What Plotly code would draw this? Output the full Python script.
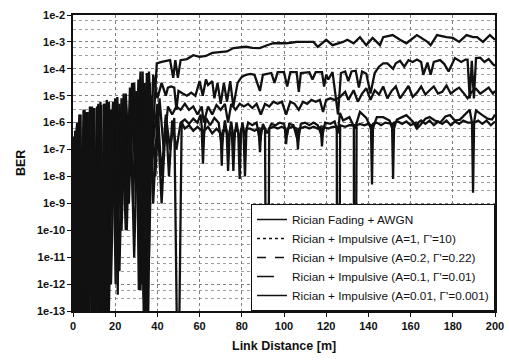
import plotly.graph_objects as go

# ---------------- data ----------------
x_tick_vals = [0, 20, 40, 60, 80, 100, 120, 140, 160, 180, 200]
y_tick_vals = [1e-2, 1e-3, 1e-4, 1e-5, 1e-6, 1e-7, 1e-8, 1e-9, 1e-10, 1e-11, 1e-12, 1e-13]
y_tick_text = ["1e-2", "1e-3", "1e-4", "1e-5", "1e-6", "1e-7", "1e-8", "1e-9",
               "1e-10", "1e-11", "1e-12", "1e-13"]

legend_names = [
    "Rician Fading + AWGN",
    "Rician + Impulsive (A=1, Γ'=10)",
    "Rician + Impulsive (A=0.2, Γ'=0.22)",
    "Rician + Impulsive (A=0.1, Γ'=0.01)",
    "Rician + Impulsive (A=0.01, Γ'=0.001)",
]

# (distance [m], BER) vertices for each curve
s_awgn = [(0, 1e-8), (0.8, 1e-14), (1.6, 5e-7), (2.4, 1e-14), (3.2, 1.5e-6), (4.0, 1e-14),
          (5.0, 1e-7), (5.8, 1e-14), (6.6, 2.5e-6), (7.4, 1e-14), (8.2, 3e-6), (9.0, 1e-14),
          (9.8, 3.5e-6), (10.6, 1e-14), (11.4, 4e-6), (12.2, 1e-14), (13.0, 4.5e-6), (13.8, 1e-14),
          (14.6, 5e-6), (15.4, 1e-14), (16.2, 5e-6), (16.6, 1e-14), (18, 3e-6), (19.5, 1e-9),
          (20.5, 6e-6), (21.2, 4e-13), (22, 5e-6), (23.5, 1e-8), (25, 7e-6), (26.5, 1e-9),
          (28, 1e-5), (29.5, 1e-8), (31, 2e-5), (32, 6e-13), (33, 3e-5), (34, 1e-14), (34.8, 1e-14),
          (36, 2e-5), (38, 2e-7), (40, 5e-6), (42, 1e-8), (44, 2e-6), (46, 1e-7), (48, 1.5e-6),
          (49.3, 1e-14), (50.3, 1e-14), (51.5, 1e-6), (53, 6e-7), (55, 8e-7), (57, 5e-7), (59, 7e-7),
          (61, 5e-7), (61.6, 3e-8), (62.2, 5e-7), (64, 7e-7), (66, 4e-7), (68, 6e-7), (70, 4e-7),
          (70.5, 2.5e-8), (71, 5e-7), (72.8, 5e-7), (73.5, 1.6e-8), (74.3, 5e-7), (75.3, 4e-7),
          (76, 1.6e-8), (76.7, 5e-7), (78.3, 5e-7), (79, 8e-9), (79.7, 6e-7), (80.8, 5e-7),
          (81.5, 1e-8), (82.2, 6e-7), (84, 6e-7), (86, 5e-7), (88, 6e-7), (88.6, 8e-8), (89.2, 6e-7),
          (91, 6e-7), (91.5, 1e-14), (92.5, 1e-14), (93, 6e-7), (95, 7e-7), (97, 6e-7), (99, 7e-7),
          (100.4, 6e-7), (101, 1.6e-7), (101.6, 6e-7), (104, 7e-7), (106, 6e-7), (106.6, 1e-7),
          (107.2, 6e-7), (110, 7e-7), (112, 6e-7), (114, 7e-7), (116, 6e-7), (117.4, 7e-7),
          (118, 1.3e-7), (118.6, 7e-7), (121, 6e-7), (123, 7e-7), (125, 7e-7), (125.2, 1e-14),
          (126.2, 1e-14), (126.6, 8e-7), (129, 7e-7), (131, 8e-7), (133.1, 8e-7), (133.2, 1e-14),
          (134.0, 1e-14), (134.4, 8e-7), (136, 9e-7), (138, 8e-7), (140, 9e-7), (141.2, 8e-7),
          (141.7, 5e-9), (142.2, 9e-7), (144, 1e-6), (146, 8e-7), (148, 1e-6), (150, 9e-7),
          (151.2, 9e-7), (151.7, 8e-9), (152.2, 1e-6), (154, 1.1e-6), (156, 9e-7), (158, 1.1e-6),
          (160, 8e-7), (162.4, 1e-6), (163, 6e-7), (163.6, 1e-6), (165, 1.2e-6), (167, 9e-7),
          (169, 1.2e-6), (171, 8e-7), (173, 1.1e-6), (175, 9e-7), (177, 1.2e-6), (179, 8e-7),
          (181, 1.1e-6), (183, 9e-7), (185, 1.2e-6), (187, 1e-6), (189.1, 1e-6), (189.6, 2.5e-9),
          (190.1, 1e-6), (192, 1.2e-6), (194, 9e-7), (196, 1.2e-6), (198, 8e-7), (200, 1.1e-6)]

s_a1 = [(0, 2e-8), (2, 1e-6), (4, 1e-14), (5.5, 3e-6), (7, 1e-14), (9, 4e-6), (11, 1e-14),
        (13, 6e-6), (15, 1e-14), (17, 6e-6), (19, 1e-9), (21, 9e-6), (23, 1e-10), (25, 1.2e-5),
        (27, 1e-8), (29, 3e-5), (31, 1e-9), (33, 8e-5), (34.5, 1e-14), (36, 8e-5), (37.5, 1e-7),
        (39.7, 1.6e-4), (42, 1.8e-4), (44, 2.0e-4), (46, 2.1e-4), (47.5, 4.6e-5), (48.5, 2.1e-4),
        (49.7, 4.6e-5), (51, 2.1e-4), (54, 2.3e-4), (57, 3.2e-4), (60, 2.8e-4), (63, 3.0e-4),
        (66, 3.9e-4), (70, 4.2e-4), (73, 4.4e-4), (76, 5.9e-4), (79, 6.2e-4), (82, 6.6e-4),
        (85, 6.0e-4), (88.5, 5.9e-4), (92, 7.5e-4), (95, 8.9e-4), (98, 9.0e-4), (101, 8.9e-4),
        (104, 9.5e-4), (106, 1.0e-3), (110, 1.0e-3), (114, 1.0e-3), (116, 6.5e-4), (118, 9e-4),
        (120, 1.2e-3), (123, 7.6e-4), (126, 9.0e-4), (128, 1.0e-3), (130, 1.2e-3), (133, 8.9e-4),
        (136, 1.5e-3), (139, 7.6e-4), (142, 1.4e-3), (145.5, 7.6e-4), (147, 1.5e-3),
        (151.5, 1.8e-3), (155, 1.2e-3), (158, 8.9e-4), (163, 1.8e-3), (168, 1.0e-3),
        (169.5, 7.6e-4), (172.5, 1.8e-3), (177, 1.5e-3), (180, 1.4e-3), (183, 1.0e-3),
        (186.5, 1.8e-3), (189.6, 1.5e-3), (191.5, 1.5e-3), (194.3, 1.0e-3), (197.6, 1.8e-3),
        (200, 1.2e-3)]

s_a02 = [(0, 1e-14), (1, 5e-7), (3, 1e-14), (5, 3e-6), (6.5, 1e-14), (8, 4e-6), (10, 1e-14),
         (12, 5e-6), (14, 1e-14), (16, 7e-6), (18, 1e-12), (20, 8e-6), (22, 3e-12), (24, 1.2e-5),
         (26, 1e-9), (28, 3e-5), (30, 1e-8), (32, 8e-5), (33.5, 3e-13), (35, 7e-5), (36, 1e-11),
         (38, 6e-5), (40, 8e-6), (42, 3e-5), (44, 1e-5), (45, 2e-5), (46.5, 2.2e-5), (48, 2.0e-5),
         (49, 3e-6), (50, 1.5e-5), (52, 1.2e-5), (54, 1e-5), (56, 1.3e-5), (58, 1e-5), (60, 3.5e-5),
         (61.5, 1e-5), (63, 4e-5), (64, 2.5e-5), (66, 3.5e-5), (67, 8e-6), (68.5, 3e-5), (70, 5e-6),
         (71.5, 3e-5), (73, 6e-6), (74.5, 3.5e-5), (76, 4e-6), (78, 3e-5), (80, 5e-5), (82, 6e-5),
         (84, 6.5e-5), (86, 6e-5), (88.6, 1.5e-5), (90, 6e-5), (92, 6.5e-5), (94, 7e-5),
         (95.5, 3e-5), (97, 7.5e-5), (100, 7.5e-5), (101.5, 2.2e-5), (103, 7.5e-5), (106, 7.5e-5),
         (107, 1.4e-5), (108, 7e-5), (112, 7.5e-5), (113.5, 4e-5), (115, 7.5e-5), (118, 7.5e-5),
         (119, 2.2e-5), (120, 6e-5), (121, 4e-5), (123, 7.5e-5), (125.6, 2e-6), (127, 7e-5),
         (129, 8e-5), (130.5, 3.5e-5), (132, 8e-5), (134, 8.5e-5), (135.5, 2e-5), (137, 8e-5),
         (139, 6.5e-5), (141, 1.2e-5), (143, 7e-5), (145, 1.2e-4), (147, 1.6e-4), (149, 1.6e-4),
         (151.7, 1e-4), (153, 1.6e-4), (155, 2e-4), (157, 1.2e-4), (159, 2.1e-4), (161, 1.8e-4),
         (163, 2.2e-4), (165, 1.8e-4), (166, 6e-5), (168, 1.7e-4), (169.5, 6e-5), (171, 1.8e-4),
         (174, 2.1e-4), (176, 1.5e-4), (178, 8e-5), (181, 2.5e-4), (184, 1.8e-4), (186, 2.2e-4),
         (187, 2.2e-4), (188, 8e-6), (189, 2e-4), (190, 8e-6), (191, 2.5e-4), (193, 2.6e-4),
         (195, 1.8e-4), (197, 2.3e-4), (199, 1.5e-4), (200, 1.3e-4)]

s_a01 = [(0, 1e-9), (1.5, 1e-14), (3, 2e-6), (4.5, 1e-14), (6, 2.5e-6), (7.5, 1e-14), (9, 3e-6),
         (10.5, 1e-14), (12, 4e-6), (13.5, 1e-14), (15.5, 5e-6), (17, 1e-13), (19, 6e-6),
         (21, 1e-11), (23, 8e-6), (25, 1e-10), (27, 2e-5), (29, 1e-11), (31, 4e-5), (32.5, 1e-12),
         (34, 3e-5), (35.5, 1e-14), (37, 1e-5), (39, 1e-8), (41, 8e-6), (43, 1e-7), (45, 4e-6),
         (47, 2e-6), (49, 4e-6), (51, 3e-6), (53, 5e-6), (55, 3e-6), (57, 4e-6), (59, 2e-6),
         (61, 4e-6), (62, 1e-6), (64, 4e-6), (66, 2e-6), (68, 4.5e-6), (70, 3e-6), (72, 5e-6),
         (73.5, 1e-6), (75, 5e-6), (77, 3e-6), (79, 5e-6), (81, 4e-6), (83, 5e-6), (85, 3.5e-6),
         (87, 5e-6), (89, 2e-6), (91, 5e-6), (93, 4e-6), (95, 6e-6), (97, 5e-6), (99, 6e-6),
         (101, 2e-6), (103, 6e-6), (105, 5e-6), (107, 3e-6), (109, 6e-6), (111, 5e-6), (113, 7e-6),
         (115, 6e-6), (117, 7e-6), (118.5, 2.5e-6), (120, 7e-6), (122, 8e-6), (124, 7e-6),
         (126.5, 9e-6), (129, 1.4e-5), (130.5, 7e-6), (133, 1.6e-5), (135, 6e-6), (137, 1.2e-5),
         (139, 1.9e-5), (141, 7e-6), (143, 1.6e-5), (145, 1.1e-5), (147, 2.2e-5), (149, 8e-6),
         (151, 1.5e-5), (153, 2.2e-5), (155, 8e-6), (157, 1.3e-5), (159, 2.3e-5), (161, 9e-6),
         (163, 1.3e-5), (165, 2.2e-5), (167, 1.1e-5), (169, 1.6e-5), (171, 2.2e-5), (173, 1.2e-5),
         (175, 1.4e-5), (177, 2.4e-5), (179, 1.2e-5), (181, 1.6e-5), (183, 2.0e-5), (185, 1.3e-5),
         (187, 8e-6), (189, 1.4e-5), (191, 1.8e-5), (193, 1.2e-5), (195, 1.6e-5), (197, 2.0e-5),
         (199, 1.2e-5), (200, 1.5e-5)]

s_a001 = [(0, 1e-14), (0.4, 3e-7), (1.2, 1e-14), (2.0, 1e-6), (2.8, 1e-14), (3.6, 2e-6),
          (4.3, 1e-14), (5.2, 1e-8), (6.2, 1e-14), (7.0, 2.5e-6), (7.8, 1e-14), (8.6, 3e-6),
          (9.4, 1e-14), (10.2, 3.5e-6), (11.0, 1e-14), (11.8, 4e-6), (12.6, 1e-14), (13.4, 4.5e-6),
          (14.2, 1e-14), (15.0, 5e-6), (15.8, 1e-14), (16.5, 4e-6), (17.5, 1e-9), (19, 6e-6),
          (20.2, 1e-12), (21, 3e-6), (22.5, 1e-9), (24, 8e-6), (25.5, 1e-10), (27, 5e-6),
          (28.5, 1e-9), (30, 1.5e-5), (31.2, 6e-13), (32, 1e-5), (33.5, 1e-13), (35, 1e-14),
          (36.5, 3e-5), (38, 1e-9), (40, 2e-6), (42, 1e-9), (44, 1.5e-6), (45.5, 1e-8),
          (47, 1.2e-6), (49, 1e-7), (51, 1e-6), (53, 1.3e-6), (55, 9e-7), (57, 1.4e-6), (59, 1e-6),
          (60.5, 2e-6), (61.6, 2e-7), (63, 1.5e-6), (65, 8e-7), (67, 1.5e-6), (69, 1e-6),
          (70.5, 1.3e-7), (72, 1.2e-6), (73.5, 2e-7), (75, 1.1e-6), (76.2, 2e-7), (77.5, 1e-6),
          (79, 2e-7), (80.3, 1e-6), (81.5, 3e-7), (83, 1e-6), (85, 8e-7), (87, 1e-6), (88.6, 2e-7),
          (90, 9e-7), (92, 4e-7), (94, 9e-7), (96, 8e-7), (98, 1e-6), (100, 9e-7), (101.3, 3e-7),
          (102.5, 9e-7), (104.5, 8e-7), (106.6, 2e-7), (108, 9e-7), (110, 1e-6), (112, 8e-7),
          (114, 1e-6), (116, 8e-7), (118, 3e-7), (119.5, 1e-6), (122, 9e-7), (124, 1.1e-6),
          (125.6, 4e-7), (126.5, 2.3e-6), (128, 1.2e-6), (131, 1.6e-6), (133.6, 6e-7),
          (136, 2.5e-6), (139, 1.5e-6), (141.7, 5e-7), (144, 1.6e-6), (147, 1.6e-6),
          (150, 1.2e-6), (151.7, 5e-7), (153.5, 1.3e-6), (156, 1.6e-6), (158, 1.9e-6),
          (161, 1.1e-6), (163, 6e-7), (164.5, 8e-7), (167, 1.4e-6), (169, 1.6e-6),
          (171.5, 1.2e-6), (174, 1e-6), (176.5, 1.7e-6), (178.7, 1.9e-6), (181, 1.2e-6),
          (183.4, 1.3e-6), (186, 2.2e-6), (188, 3e-6), (189.6, 6e-7), (191, 2.8e-6),
          (194, 1.9e-6), (196.5, 1.4e-6), (198.6, 1.3e-6), (200, 2e-6)]

series = [s_awgn, s_a1, s_a02, s_a01, s_a001]
legend_dash = ["solid", "dot", "dash", "17px,20px", "solid"]

# ---------------- figure ----------------
FONT = "Liberation Sans, Arial, sans-serif"
fig = go.Figure()

for pts in series:
    fig.add_trace(go.Scatter(
        x=[p[0] for p in pts], y=[p[1] for p in pts], mode="lines",
        line=dict(color="#111111", width=2.3), showlegend=False, hoverinfo="skip"))

for name, dash in zip(legend_names, legend_dash):
    fig.add_trace(go.Scatter(
        x=[None], y=[None], mode="lines", name=name,
        line=dict(color="#111111", width=1.5, dash=dash)))

minor_vals = [m * 10.0 ** e for e in range(-13, -2) for m in (3, 6)]

fig.update_layout(
    width=509, height=361, autosize=False,
    margin=dict(l=73, r=14, t=15, b=50, pad=0),
    paper_bgcolor="white", plot_bgcolor="white",
    font=dict(family=FONT, color="#111111"),
    legend=dict(x=1, xanchor="right", y=0, yanchor="bottom",
                bgcolor="white", bordercolor="#111111", borderwidth=1,
                font=dict(size=11.8, family=FONT, color="#111111"),
                tracegroupgap=0),
    xaxis=dict(range=[0, 200], tickmode="array", tickvals=x_tick_vals,
               ticks="outside", ticklen=4, tickcolor="#111111",
               showline=True, mirror=True, linecolor="#111111", linewidth=1.5,
               showgrid=True, gridcolor="#808080", griddash="dot", gridwidth=1,
               zeroline=False, automargin=False,
               tickfont=dict(size=11, family=FONT, weight="bold")),
    yaxis=dict(type="log", range=[-13, -2], tickmode="array",
               tickvals=y_tick_vals, ticktext=y_tick_text,
               ticks="outside", ticklen=4, tickcolor="#111111",
               showline=True, mirror=True, linecolor="#111111", linewidth=1.5,
               showgrid=True, gridcolor="#808080", griddash="dot", gridwidth=1,
               zeroline=False, automargin=False,
               minor=dict(tickvals=minor_vals, showgrid=True, gridcolor="#a0a0a0",
                          griddash="dot", gridwidth=1, ticks=""),
               tickfont=dict(size=11, family=FONT, weight="bold")),
    annotations=[
        dict(text="BER", xref="paper", yref="paper", x=-0.123, y=0.5,
             xanchor="center", yanchor="middle",
             textangle=-90, showarrow=False,
             font=dict(size=12.5, family=FONT, weight="bold")),
        dict(text="Link Distance [m]", xref="paper", yref="paper", x=0.5, y=-0.118,
             xanchor="center", yanchor="middle",
             showarrow=False, font=dict(size=12.5, family=FONT, weight="bold")),
    ],
)

fig.write_html("out.html")
